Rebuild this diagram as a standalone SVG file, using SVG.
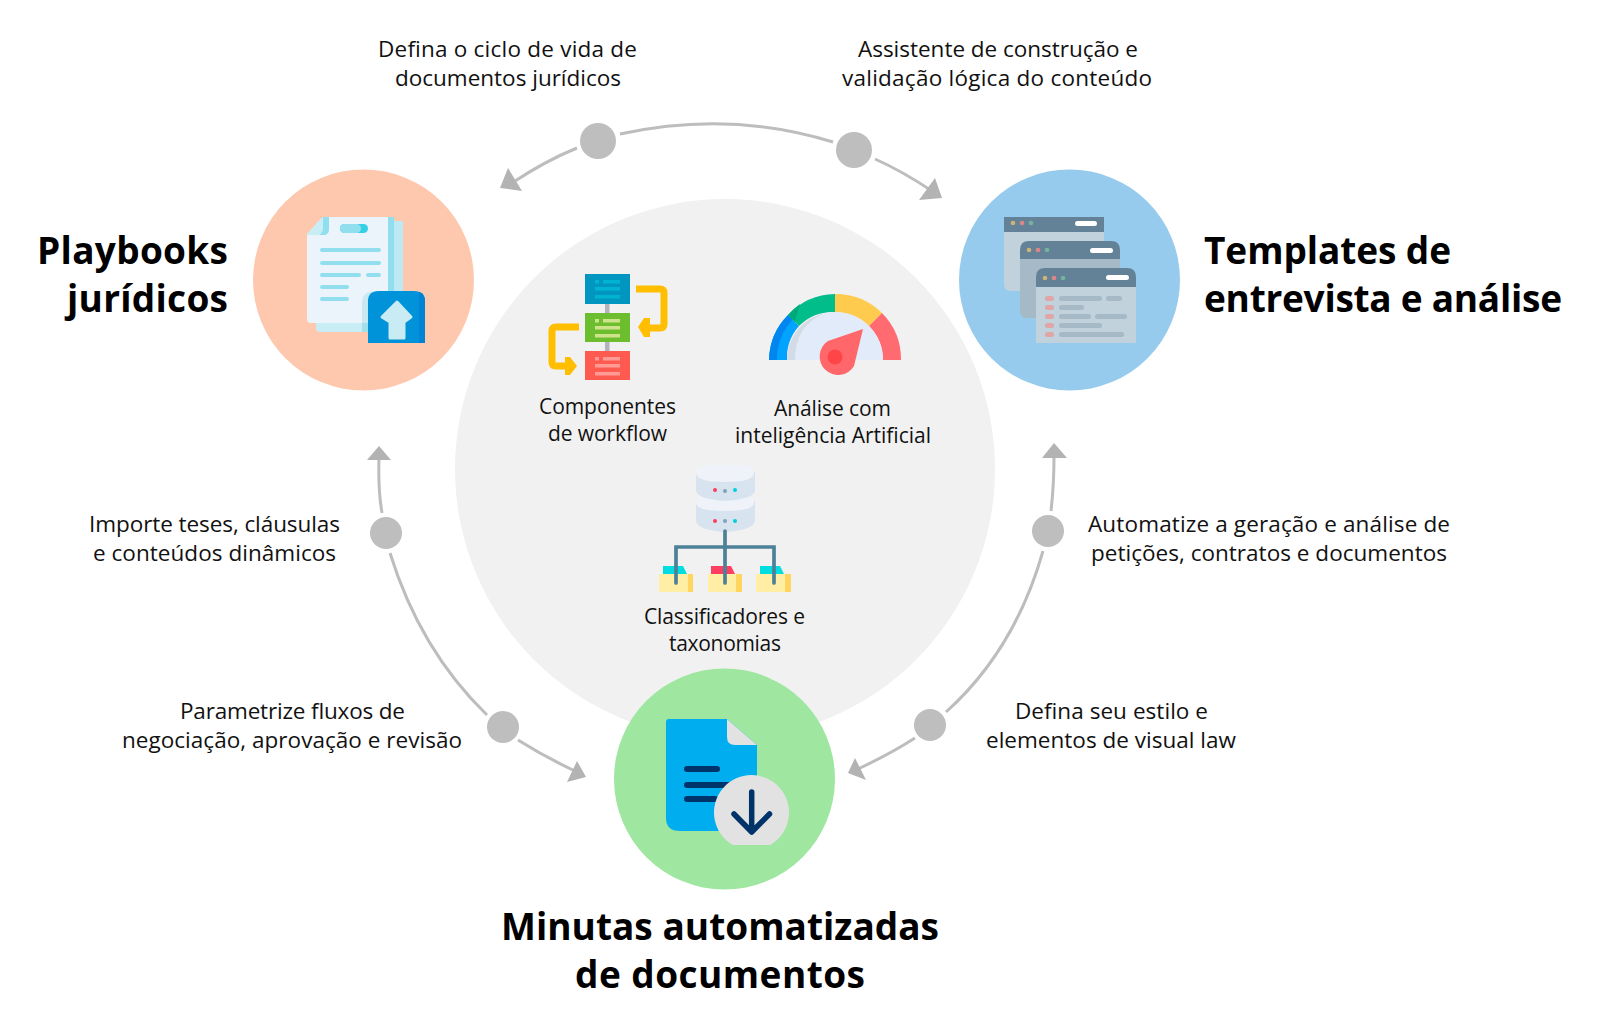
<svg xmlns="http://www.w3.org/2000/svg" width="1599" height="1029" viewBox="0 0 1599 1029">
<style>
text{font-family:"Open Sans","Noto Sans","Liberation Sans",sans-serif;fill:#111}
.l{font-size:22.500px}
.c{font-size:21px}
.t{font-size:37px;font-weight:700;fill:#000}
.m{text-anchor:middle}
.a{fill:none;stroke:#bdbdbd;stroke-width:3}
.d{fill:#bebebe}
.h{fill:#b3b3b3}
</style>
<rect width="1599" height="1029" fill="#fff"/>
<g id="center"><circle cx="725" cy="469" r="270" fill="#f1f1f1"/></g>
<g id="connectors">
<path class="a" d="M577 148Q545 161 512 183"/>
<path class="a" d="M620 134Q730 110 833 142"/>
<path class="a" d="M875 159Q902 171 932 191"/>
<path class="a" d="M382 513Q378 490 379 458"/>
<path class="a" d="M390 553Q420 650 487 715"/>
<path class="a" d="M518 740Q545 757 577 772"/>
<path class="a" d="M1043 551Q1015 650 946 712"/>
<path class="a" d="M915 738Q890 754 858 769"/>
<path class="a" d="M1051 511Q1054 485 1054 456"/>
<polygon class="h" points="500,188 508,168 522,191"/>
<polygon class="h" points="942,198 935,178 919,200"/>
<polygon class="h" points="379,446 391,460 367,460"/>
<polygon class="h" points="1054,443 1067,458 1042,458"/>
<polygon class="h" points="586,777 577,761 567,782"/>
<polygon class="h" points="848,773 855,758 866,780"/>
<circle class="d" cx="598" cy="141" r="18"/>
<circle class="d" cx="854" cy="150" r="18"/>
<circle class="d" cx="386" cy="533" r="16"/>
<circle class="d" cx="503" cy="727" r="16"/>
<circle class="d" cx="1048" cy="531" r="16"/>
<circle class="d" cx="930" cy="725" r="16"/>
</g>
<g id="playbooks">
<circle cx="363.500" cy="280" r="110.500" fill="#fec8af"/>
<rect x="316" y="221" width="87" height="111" rx="4" fill="#c8edf5"/>
<rect x="394" y="221" width="9" height="101" fill="#bde9f2"/>
<path d="M323 217H388V323H311Q307 323 307 319V234Z" fill="#ebf4fb"/>
<path d="M307 234L323 217H329V229Q329 235 323 235H307Z" fill="#c8edf5"/>
<path d="M323 217H329V229Q329 235 323 235H319Q323 233 323 228Z" fill="#91dfee"/>
<rect x="388" y="217" width="6" height="106" fill="#91dfee"/>
<rect x="340" y="224" width="28" height="9" rx="4.500" fill="#34d0e6"/>
<rect x="340" y="224" width="21" height="9" rx="4.500" fill="#91dfee"/>
<rect x="320" y="248" width="61" height="4" rx="2" fill="#91dfee"/>
<rect x="320" y="261" width="61" height="4" rx="2" fill="#91dfee"/>
<rect x="320" y="273" width="41" height="4" rx="2" fill="#91dfee"/>
<rect x="366" y="273" width="15" height="4" rx="2" fill="#91dfee"/>
<rect x="320" y="285" width="29" height="4" rx="2" fill="#91dfee"/>
<rect x="320" y="297" width="29" height="4" rx="2" fill="#91dfee"/>
<path d="M362 323V303Q362 292 374 291H395V323Z" fill="#c8e9f2"/>
<path d="M362 323H395V332H362Z" fill="#9fe0ea"/>
<path d="M368 343V301Q368 291 379 291H414Q425 291 425 301V343Z" fill="#0093d9"/>
<path d="M419 292Q425 294 425 301V343H419Z" fill="#0082d6"/>
<path d="M397 302L411 317L404 322V338H390V322L382 317Z" fill="#c8ebf4" stroke="#c8ebf4" stroke-width="3" stroke-linejoin="round"/>
</g>
<g id="templates">
<circle cx="1069.500" cy="280" r="110.500" fill="#97cbee"/>
<path d="M1004 232H1104V284Q1104 291 1097 291H1011Q1004 291 1004 284Z" fill="#c2d2dd"/>
<path d="M1004 217H1104V232H1004Z" fill="#648297"/>
<rect x="1075" y="221" width="22" height="5" rx="2.500" fill="#fff"/>
<circle cx="1013" cy="223" r="2.300" fill="#cdb27a"/><circle cx="1022" cy="223" r="2.300" fill="#dd8688"/><circle cx="1031" cy="223" r="2.300" fill="#75b49c"/>
<path d="M1020 259H1120V311Q1120 318 1113 318H1027Q1020 318 1020 311Z" fill="#a6b9c7"/>
<path d="M1020 259V250Q1020 241 1029 241H1111Q1120 241 1120 250V259Z" fill="#648297"/>
<rect x="1090" y="248" width="23" height="5" rx="2.500" fill="#fff"/>
<circle cx="1029" cy="250" r="2.300" fill="#cdb27a"/><circle cx="1038" cy="250" r="2.300" fill="#dd8688"/><circle cx="1047" cy="250" r="2.300" fill="#75b49c"/>
<path d="M1036 287H1136V343H1036Z" fill="#c2d2dd"/>
<path d="M1036 287V277Q1036 268 1045 268H1127Q1136 268 1136 277V287Z" fill="#648297"/>
<rect x="1106" y="275" width="23" height="5" rx="2.500" fill="#fff"/>
<circle cx="1045" cy="278" r="2.300" fill="#cdb27a"/><circle cx="1054" cy="278" r="2.300" fill="#dd8688"/><circle cx="1063" cy="278" r="2.300" fill="#75b49c"/>
<g fill="#e0a5a5"><rect x="1045" y="296" width="9" height="5" rx="2.500"/><rect x="1045" y="305" width="9" height="5" rx="2.500"/><rect x="1045" y="314" width="9" height="5" rx="2.500"/><rect x="1045" y="323" width="9" height="5" rx="2.500"/><rect x="1045" y="332" width="9" height="5" rx="2.500"/></g>
<g fill="#a6b9c7"><rect x="1059" y="296" width="43" height="5" rx="2.500"/><rect x="1106" y="296" width="16" height="5" rx="2.500"/><rect x="1059" y="305" width="25" height="5" rx="2.500"/><rect x="1059" y="314" width="32" height="5" rx="2.500"/><rect x="1095" y="314" width="32" height="5" rx="2.500"/><rect x="1059" y="323" width="43" height="5" rx="2.500"/><rect x="1059" y="332" width="65" height="5" rx="2.500"/></g>
</g>
<g id="minutas">
<circle cx="724.500" cy="779" r="110.500" fill="#9fe6a0"/>
<path d="M669 719H727L757 745V831H680Q666 831 666 818V722Q666 719 669 719Z" fill="#00aeef"/>
<path d="M727 719L757 745H735Q727 745 727 737Z" fill="#e2e2e2"/>
<g fill="#00336a"><rect x="684" y="766" width="36" height="6" rx="3"/><rect x="684" y="782" width="48" height="6" rx="3"/><rect x="684" y="796" width="34" height="6" rx="3"/></g>
<path d="M732.800 845A37.500 37.500 0 1 1 770.200 845Z" fill="#e2e2e2"/>
<path d="M751.700 792V832M734 814L751.700 832L769.500 814" fill="none" stroke="#00336a" stroke-width="5.500" stroke-linecap="round" stroke-linejoin="round"/>
</g>
<g id="workflow">
<rect x="605" y="292" width="4.500" height="70" fill="#b3b3bd"/>
<rect x="585" y="274" width="45" height="30" fill="#0096bf"/>
<g fill="#00b4cf"><rect x="595" y="280" width="4" height="3.500"/><rect x="603" y="280" width="17" height="3.500"/><rect x="595" y="287" width="25" height="3.500"/><rect x="595" y="295" width="25" height="3.500"/></g>
<rect x="585" y="313" width="45" height="29" fill="#6cbe2f"/>
<g fill="#cfe28c"><rect x="595" y="319" width="4" height="3.500"/><rect x="603" y="319" width="17" height="3.500"/><rect x="595" y="326" width="25" height="3.500"/><rect x="595" y="334" width="25" height="3.500"/></g>
<rect x="585" y="351" width="45" height="29" fill="#ff5a4f"/>
<g fill="#ff9b96"><rect x="595" y="357" width="4" height="3.500"/><rect x="603" y="357" width="17" height="3.500"/><rect x="595" y="364" width="25" height="3.500"/><rect x="595" y="372" width="25" height="3.500"/></g>
<path d="M636 289H660Q664 289 664 293V324Q664 328 660 328H648" fill="none" stroke="#ffbe00" stroke-width="7"/>
<polygon points="638,327 644,318 650,318 650,337 644,337" fill="#ffbe00"/>
<path d="M579 327H556Q552 327 552 331V362Q552 366 556 366H567" fill="none" stroke="#ffbe00" stroke-width="7"/>
<polygon points="577,366 570,357 565,357 565,375 570,375" fill="#ffbe00"/>
</g>
<g id="gauge">
<path d="M769 360A66 66 0 0 1 788 315L799 326A48 48 0 0 0 787 360Z" fill="#00a3ff"/>
<path d="M769 360A66 66 0 0 1 788 315L793 319A60 60 0 0 0 777 360Z" fill="#0086ee"/>
<path d="M788 315A66 66 0 0 1 835 294V312A48 48 0 0 0 799 326Z" fill="#00bd8a"/>
<path d="M788 315A66 66 0 0 1 800 304L795 322Z" fill="#00a97c"/>
<path d="M835 294A66 66 0 0 1 882 313L869 326A48 48 0 0 0 835 312Z" fill="#ffcb4e"/>
<path d="M882 313A66 66 0 0 1 901 360H883A48 48 0 0 0 869 326Z" fill="#ff6b70"/>
<path d="M787 360A48 48 0 0 1 883 360Z" fill="#e2ebf9"/>
<path d="M787 360A48 48 0 0 1 825 313Q795 325 795 360Z" fill="#d3dbe5"/>
<path d="M863 329L854 366A18.500 18.500 0 1 1 828 341Z" fill="#ff676b"/>
<circle cx="835" cy="357" r="7.500" fill="#ff4548"/>
</g>
<g id="taxonomy">
<path d="M696 501V520Q696 530 725 532Q755 530 755 520V501Z" fill="#d7e3ee"/>
<path d="M696 503Q696 495 708 495H742Q754 495 754 503Q754 511 725 511Q696 511 696 503Z" fill="#eff2f8"/>
<path d="M696 472V490Q696 499 725 501Q755 499 755 490V472Z" fill="#d7e3ee"/>
<path d="M696 473Q696 465 708 465H742Q754 465 754 473Q754 482 725 482Q696 482 696 473Z" fill="#eff2f8"/>
<g fill="#ff3d60"><circle cx="715" cy="490" r="2"/><circle cx="715" cy="521" r="2"/></g>
<g fill="#7da3bb"><circle cx="725" cy="491" r="2"/><circle cx="725" cy="521" r="2"/></g>
<g fill="#00d0d8"><circle cx="735" cy="490" r="2"/><circle cx="735" cy="521" r="2"/></g>
<polygon points="663,566 683,566 687,574 663,574" fill="#00dde0"/>
<polygon points="711,566 731,566 735,574 711,574" fill="#ff3d60"/>
<polygon points="760,566 780,566 784,574 760,574" fill="#00dde0"/>
<g fill="#ffeea4"><rect x="659" y="574" width="34" height="18"/><rect x="708" y="574" width="34" height="18"/><rect x="756" y="574" width="35" height="18"/></g>
<g fill="#ffd45f"><rect x="688" y="574" width="5" height="18"/><rect x="736" y="574" width="6" height="18"/><rect x="785" y="574" width="6" height="18"/></g>
<path d="M725 531V583M676 583V547H774V583" fill="none" stroke="#4c8198" stroke-width="3.700" stroke-linecap="round"/>
</g>
<g id="labels">
<text class="t" x="37" y="264" textLength="191">Playbooks</text>
<text class="t" x="67" y="312" textLength="161">jurídicos</text>
<text class="t" x="1204" y="264" textLength="247">Templates de</text>
<text class="t" x="1204" y="312" textLength="358">entrevista e análise</text>
<text class="t" x="501" y="940" textLength="438">Minutas automatizadas</text>
<text class="t" x="575" y="988" textLength="290">de documentos</text>
<text class="l" x="378" y="57" textLength="259">Defina o ciclo de vida de</text>
<text class="l" x="395" y="86" textLength="226">documentos jurídicos</text>
<text class="l" x="858" y="57" textLength="280">Assistente de construção e</text>
<text class="l" x="842" y="86" textLength="310">validação lógica do conteúdo</text>
<text class="l" x="89" y="532" textLength="251">Importe teses, cláusulas</text>
<text class="l" x="93" y="561" textLength="243">e conteúdos dinâmicos</text>
<text class="l" x="180" y="719" textLength="225">Parametrize fluxos de</text>
<text class="l" x="122" y="748" textLength="340">negociação, aprovação e revisão</text>
<text class="l" x="1088" y="532" textLength="362">Automatize a geração e análise de</text>
<text class="l" x="1091" y="561" textLength="356">petições, contratos e documentos</text>
<text class="l" x="1015" y="719" textLength="193">Defina seu estilo e</text>
<text class="l" x="986" y="748" textLength="250">elementos de visual law</text>
<text class="c" x="539" y="414" textLength="137">Componentes</text>
<text class="c" x="548" y="441" textLength="119">de workflow</text>
<text class="c" x="774" y="416" textLength="117">Análise com</text>
<text class="c" x="735" y="443" textLength="196">inteligência Artificial</text>
<text class="c" x="644" y="624" textLength="161">Classificadores e</text>
<text class="c" x="669" y="651" textLength="112">taxonomias</text>
</g>
</svg>
